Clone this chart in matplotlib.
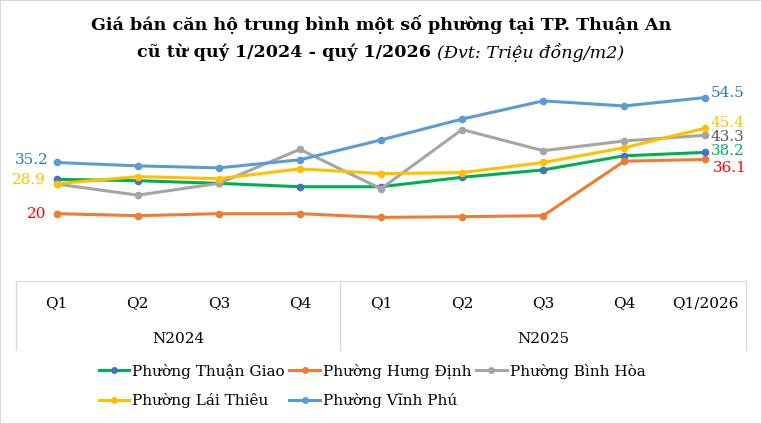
import matplotlib.pyplot as plt
from matplotlib.lines import Line2D
from matplotlib.patches import Rectangle

# Data (triệu đồng/m2)
quarters = ['Q1', 'Q2', 'Q3', 'Q4', 'Q1', 'Q2', 'Q3', 'Q4', 'Q1/2026']
years = ['N2024', 'N2025']
thuan_giao = [30.2, 29.8, 29.0, 28.0, 28.0, 30.8, 33.0, 37.2, 38.2]
hung_dinh = [20.0, 19.4, 20.0, 20.0, 18.9, 19.1, 19.4, 35.6, 36.1]
binh_hoa = [28.8, 25.5, 29.0, 39.1, 27.4, 45.0, 38.7, 41.6, 43.3]
lai_thieu = [28.9, 31.0, 30.4, 33.3, 31.9, 32.2, 35.2, 39.6, 45.4]
vinh_phu = [35.2, 34.2, 33.6, 36.0, 41.9, 48.1, 53.5, 52.0, 54.5]

FONT = 'DejaVu Serif'
plt.rcParams['font.family'] = FONT

# name, values, line colour, marker colour
series = [
    ('Phường Thuận Giao', thuan_giao, '#00B050', '#4472C4'),
    ('Phường Hưng Định', hung_dinh, '#ED7D31', '#ED7D31'),
    ('Phường Bình Hòa', binh_hoa, '#A5A5A5', '#A5A5A5'),
    ('Phường Lái Thiêu', lai_thieu, '#FFC000', '#FFC000'),
    ('Phường Vĩnh Phú', vinh_phu, '#5B9BD5', '#5B9BD5'),
]

fig = plt.figure(figsize=(7.62, 4.24), dpi=100)
W, H = 762, 424
ax = fig.add_axes([16 / W, 1 - 281 / H, 730 / W, 202 / H])

x = list(range(len(quarters)))
handles = {}
for name, vals, lc, mc in series:
    ax.plot(x, vals, color=lc, lw=2.2, marker='o', ms=4.5,
            mfc=mc, mec=mc, solid_capstyle='round')
    handles[name] = Line2D([], [], color=lc, lw=2.2, marker='o', ms=4,
                           mfc=mc, mec=mc)

ax.set_xlim(-0.5, len(quarters) - 0.5)
ax.set_ylim(0, 60)
ax.set_yticks([])
for s in ['left', 'right', 'top']:
    ax.spines[s].set_visible(False)
ax.spines['bottom'].set_color('#D9D9D9')
ax.set_xticks(x)
ax.set_xticklabels(quarters, fontsize=11)
ax.tick_params(axis='x', length=0, pad=11)

# category group boxes
tr = ax.get_xaxis_transform()
for xv in [-0.5, 3.5, len(quarters) - 0.5]:
    ax.plot([xv, xv], [0, -69 / 202], transform=tr, color='#D9D9D9',
            lw=1, clip_on=False)
ax.text(1.5, -58 / 202, years[0], transform=tr, ha='center', va='center',
        fontsize=11)
ax.text(6.0, -58 / 202, years[1], transform=tr, ha='center', va='center',
        fontsize=11)

# data labels (offsets in points)
def lab(xi, val, text, color, dx, dy, ha):
    ax.annotate(text, (xi, val), xytext=(dx, dy), textcoords='offset points',
                ha=ha, va='center', color=color, fontsize=11)

last = len(quarters) - 1
lab(0, vinh_phu[0], f'{vinh_phu[0]}', '#2E75B6', -6, 1.5, 'right')
lab(0, lai_thieu[0], f'{lai_thieu[0]}', '#FFC000', -8, 2.5, 'right')
lab(0, hung_dinh[0], f'{hung_dinh[0]:g}', '#FF0000', -7, 0, 'right')
lab(last, vinh_phu[last], f'{vinh_phu[last]}', '#2E75B6', 4, 3.5, 'left')
lab(last, lai_thieu[last], f'{lai_thieu[last]}', '#FFC000', 4, 3.5, 'left')
lab(last, binh_hoa[last], f'{binh_hoa[last]}', '#595959', 4, -1, 'left')
lab(last, thuan_giao[last], f'{thuan_giao[last]}', '#00B050', 4, 1, 'left')
lab(last, hung_dinh[last], f'{hung_dinh[last]}', '#FF0000', 5, -6, 'left')

# title
fig.text(0.5, 1 - 25 / H, 'Giá bán căn hộ trung bình một số phường tại TP. Thuận An',
         ha='center', va='center', fontsize=12.6, fontweight='bold')
t1 = fig.text(0.5, 1 - 52 / H, 'cũ từ quý 1/2024 - quý 1/2026 ', ha='left',
              va='center', fontsize=12.6, fontweight='bold')
t2 = fig.text(0.5, 1 - 52 / H, '(Đvt: Triệu đồng/m2)', ha='left', va='center',
              fontsize=12.6, style='italic')
r = fig.canvas.get_renderer()
w1 = t1.get_window_extent(r).width
w2 = t2.get_window_extent(r).width
x0 = (W - w1 - w2) / 2
t1.set_x(x0 / W)
t2.set_x((x0 + w1) / W)

# legend: row 1 TG, HĐ, BH ; row 2 LT, VP (column-major order)
order = ['Phường Thuận Giao', 'Phường Lái Thiêu', 'Phường Hưng Định',
         'Phường Vĩnh Phú', 'Phường Bình Hòa']
fig.legend([handles[n] for n in order], order, ncol=3, loc='center',
           bbox_to_anchor=(372 / W, 1 - 386 / H), frameon=False, fontsize=11,
           handlelength=2.0, handletextpad=0.2, columnspacing=0.3,
           labelspacing=0.95)

fig.patches.append(Rectangle((0, 0), 1, 1, transform=fig.transFigure,
                             fill=False, edgecolor='#D9D9D9', lw=1.5))

fig.savefig('out.png', dpi=100)
